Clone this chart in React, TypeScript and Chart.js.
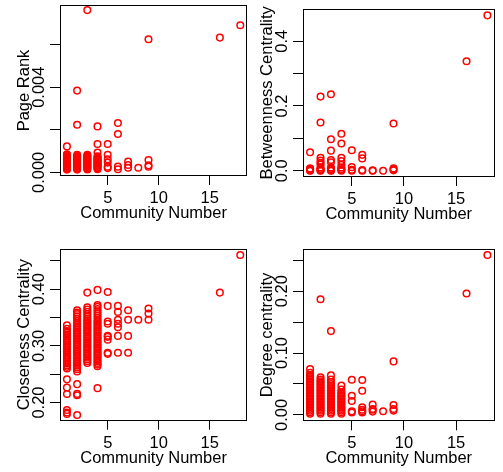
import React, { useEffect, useRef } from "react";
import { Chart, registerables } from "chart.js";

Chart.register(...registerables);

// ---------- data ----------
const communities = [1, 2, 3, 4, 5, 6, 7, 8, 9, 16, 18];

const pageRank: number[][] = [
  [0.00013, 0.00017, 0.00021, 0.00025, 0.00029, 0.00033, 0.00037, 0.00041, 0.00045, 0.00049, 0.00053, 0.00057, 0.00061, 0.00065, 0.00069, 0.00073, 0.00077, 0.00081, 0.00085, 0.00122],
  [0.00013, 0.00017, 0.00021, 0.00025, 0.00029, 0.00033, 0.00037, 0.00041, 0.00045, 0.00049, 0.00053, 0.00057, 0.00061, 0.00065, 0.00069, 0.00073, 0.00077, 0.00082, 0.00224, 0.00384],
  [0.00014, 0.00018, 0.00022, 0.00026, 0.0003, 0.00034, 0.00038, 0.00042, 0.00046, 0.0005, 0.00054, 0.00058, 0.00062, 0.00066, 0.0007, 0.00074, 0.00078, 0.00082, 0.00762],
  [0.00015, 0.00019, 0.00023, 0.00027, 0.00031, 0.00035, 0.00039, 0.00043, 0.00047, 0.00051, 0.00055, 0.00059, 0.00063, 0.00067, 0.00071, 0.00076, 0.00093, 0.00133, 0.00216],
  [0.0002, 0.00027, 0.00046, 0.00062, 0.00083, 0.00133],
  [0.00015, 0.00027, 0.0018, 0.00232],
  [0.00022, 0.00035, 0.00051],
  [0.00022],
  [0.00027, 0.00033, 0.00058, 0.00625],
  [0.00633],
  [0.00691],
];

const betweenness: number[][] = [
  [0, 0.001, 0.003, 0.005, 0.007, 0.057],
  [0, 0.001, 0.003, 0.006, 0.01, 0.019, 0.024, 0.031, 0.04, 0.149, 0.229],
  [0, 0.001, 0.003, 0.006, 0.01, 0.026, 0.033, 0.062, 0.097, 0.236],
  [0, 0.002, 0.005, 0.01, 0.018, 0.03, 0.04, 0.084, 0.114],
  [0, 0.003, 0.011, 0.063],
  [0, 0.002, 0.038, 0.049],
  [0, 0.001],
  [0],
  [0.001, 0.004, 0.007, 0.146],
  [0.338],
  [0.48],
];

const closeness: number[][] = [
  [0.18, 0.1824, 0.187, 0.215, 0.2265, 0.241, 0.26, 0.263, 0.266, 0.269, 0.272, 0.275, 0.278, 0.281, 0.284, 0.287, 0.29, 0.293, 0.296, 0.299, 0.302, 0.305, 0.308, 0.311, 0.314, 0.317, 0.32, 0.323, 0.326, 0.33, 0.3365],
  [0.178, 0.213, 0.2153, 0.2325, 0.255, 0.259, 0.262, 0.265, 0.268, 0.271, 0.274, 0.277, 0.28, 0.283, 0.286, 0.289, 0.292, 0.295, 0.298, 0.301, 0.304, 0.307, 0.31, 0.313, 0.316, 0.319, 0.322, 0.325, 0.328, 0.331, 0.334, 0.337, 0.34, 0.344, 0.348, 0.352, 0.356, 0.359, 0.3626],
  [0.27, 0.273, 0.276, 0.279, 0.282, 0.285, 0.288, 0.291, 0.294, 0.297, 0.3, 0.303, 0.306, 0.309, 0.312, 0.315, 0.318, 0.321, 0.324, 0.327, 0.33, 0.333, 0.336, 0.339, 0.342, 0.345, 0.348, 0.352, 0.356, 0.36, 0.364, 0.368, 0.394],
  [0.2254, 0.264, 0.267, 0.27, 0.273, 0.276, 0.279, 0.282, 0.285, 0.288, 0.291, 0.294, 0.297, 0.3, 0.303, 0.306, 0.309, 0.312, 0.315, 0.318, 0.321, 0.324, 0.327, 0.33, 0.333, 0.336, 0.339, 0.342, 0.345, 0.349, 0.353, 0.357, 0.361, 0.365, 0.369, 0.372, 0.3988],
  [0.286, 0.288, 0.311, 0.316, 0.318, 0.339, 0.343, 0.3706, 0.395],
  [0.288, 0.3176, 0.333, 0.339, 0.346, 0.36, 0.3706],
  [0.288, 0.3176, 0.346, 0.363],
  [0.346],
  [0.346, 0.357, 0.366],
  [0.394],
  [0.4605],
];

const degree: number[][] = [
  [0.002, 0.0045, 0.007, 0.0095, 0.012, 0.0145, 0.017, 0.0195, 0.022, 0.0245, 0.027, 0.0295, 0.032, 0.0345, 0.037, 0.0395, 0.042, 0.0445, 0.047, 0.0495, 0.052, 0.0545, 0.057, 0.0595, 0.062, 0.0645, 0.068, 0.0742],
  [0.002, 0.0045, 0.007, 0.0095, 0.012, 0.0145, 0.017, 0.0195, 0.022, 0.0245, 0.027, 0.0295, 0.032, 0.0345, 0.037, 0.0395, 0.042, 0.0445, 0.047, 0.0495, 0.052, 0.0545, 0.057, 0.0607, 0.187],
  [0.002, 0.0045, 0.007, 0.0095, 0.012, 0.0145, 0.017, 0.0195, 0.022, 0.0245, 0.027, 0.0295, 0.032, 0.0345, 0.037, 0.0395, 0.042, 0.0445, 0.047, 0.05, 0.053, 0.057, 0.0639, 0.1355],
  [0.002, 0.0045, 0.007, 0.0095, 0.012, 0.0145, 0.017, 0.0195, 0.022, 0.0245, 0.027, 0.0295, 0.032, 0.0345, 0.037, 0.041, 0.0473],
  [0.004, 0.0058, 0.0226, 0.031, 0.0569],
  [0.004, 0.0058, 0.0083, 0.0123, 0.039, 0.0565],
  [0.0054, 0.0083, 0.0097, 0.0166],
  [0.0059],
  [0.007, 0.0097, 0.016, 0.0865],
  [0.1962],
  [0.2585],
];

// ---------- axes ----------
const xRange = [0.32, 18.68];
const xTicks = [5, 10, 15];

const pageRankRange = [-0.00017, 0.00786];
const pageRankTicks = [0, 0.002, 0.004, 0.006];
const pageRankLabels = ["0.000", "", "0.004", ""];

const betweennessRange = [-0.0195, 0.5005];
const betweennessTicks = [0, 0.1, 0.2, 0.3, 0.4];
const betweennessLabels = ["0.0", "", "0.2", "", "0.4"];

const closenessRange = [0.168, 0.4715];
const closenessTicks = [0.2, 0.25, 0.3, 0.35, 0.4, 0.45];
const closenessLabels = ["0.20", "", "0.30", "", "0.40", ""];

const degreeRange = [-0.0103, 0.2687];
const degreeTicks = [0, 0.05, 0.1, 0.15, 0.2, 0.25];
const degreeLabels = ["0.00", "", "0.10", "", "0.20", ""];

const xTitle = "Community Number";

// ---------- layout / style ----------
const FONT_FAMILY = '"Liberation Sans", Arial, Helvetica, sans-serif';
const FONT_SIZE = 16.5;
const LINE_H = FONT_SIZE * 1.2;
const RED = "#ff0000";
const Y_TICK_LEN = 10;
const X_TICK_LEN = 9;

type PanelDef = {
  title: string;
  values: number[][];
  yRange: number[];
  yTicks: number[];
  yLabels: string[];
  left: number;
  top: number;
  width: number;
  height: number;
  box: number[]; // l, t, r, b in canvas coords
};

const panelDefs: PanelDef[] = [
  { title: "Page Rank", values: pageRank, yRange: pageRankRange, yTicks: pageRankTicks, yLabels: pageRankLabels, left: 0, top: 0, width: 252, height: 236, box: [60, 5, 251, 176] },
  { title: "Betweenness Centrality", values: betweenness, yRange: betweennessRange, yTicks: betweennessTicks, yLabels: betweennessLabels, left: 252, top: 0, width: 251, height: 236, box: [51, 5, 242.5, 177] },
  { title: "Closeness Centrality", values: closeness, yRange: closenessRange, yTicks: closenessTicks, yLabels: closenessLabels, left: 0, top: 236, width: 252, height: 236, box: [60, 12.7, 251, 184.7] },
  { title: "Degree centrality", values: degree, yRange: degreeRange, yTicks: degreeTicks, yLabels: degreeLabels, left: 252, top: 236, width: 251, height: 236, box: [51, 12.7, 242.5, 185.3] },
];

const boxPlugin = {
  id: "plotBox",
  afterDraw(chart: any) {
    const { ctx, chartArea: a } = chart;
    ctx.save();
    ctx.strokeStyle = "#000";
    ctx.lineWidth = 1;
    const l = Math.round(a.left) + 0.5;
    const t = Math.round(a.top) + 0.5;
    const r = Math.round(a.right) - 0.5;
    const b = Math.round(a.bottom) - 0.5;
    ctx.strokeRect(l, t, r - l, b - t);
    ctx.restore();
  },
};

function measureWidest(labels: string[]): number {
  const c = document.createElement("canvas");
  const ctx = c.getContext("2d")!;
  ctx.font = `normal ${FONT_SIZE}px ${FONT_FAMILY}`;
  let w = 0;
  labels.forEach((l) => {
    w = Math.max(w, ctx.measureText(l).width);
  });
  return w;
}

function makeConfig(p: PanelDef): any {
  const points: { x: number; y: number }[] = [];
  p.values.forEach((vals, i) => vals.forEach((v) => points.push({ x: communities[i], y: v })));
  const [bl, bt, br, bb] = p.box;
  const font = { family: FONT_FAMILY, size: FONT_SIZE };
  const widest = measureWidest(p.yLabels);
  const yTickCenter = 20.3;
  const yTitleCenter = 36;
  const xTickCenter = 22.5;
  const xTitleCenter = 37.5;

  return {
    type: "scatter",
    data: {
      datasets: [
        {
          data: points,
          pointStyle: "circle",
          pointRadius: 3.3,
          pointHoverRadius: 3.3,
          borderWidth: 1.5,
          borderColor: RED,
          backgroundColor: "rgba(0,0,0,0)",
        },
      ],
    },
    plugins: [boxPlugin],
    options: {
      animation: false,
      responsive: false,
      events: [],
      layout: { padding: { left: 0, top: bt, right: p.width - br, bottom: 0 } },
      plugins: { legend: { display: false }, tooltip: { enabled: false } },
      scales: {
        x: {
          type: "linear",
          min: xRange[0],
          max: xRange[1],
          afterFit: (s: any) => {
            s.height = p.height - bb;
          },
          afterBuildTicks: (s: any) => {
            s.ticks = xTicks.map((v) => ({ value: v }));
          },
          grid: { drawOnChartArea: false, drawTicks: true, tickLength: X_TICK_LEN, color: "#000", lineWidth: 1 },
          border: { display: false },
          ticks: {
            font,
            color: "#000",
            padding: xTickCenter - X_TICK_LEN - LINE_H / 2,
            maxRotation: 0,
            minRotation: 0,
            autoSkip: false,
            callback: (v: number) => String(v),
          },
          title: {
            display: true,
            text: xTitle,
            font,
            color: "#000",
            padding: { top: 0, bottom: p.height - (bb + xTitleCenter) - LINE_H / 2 },
          },
        },
        y: {
          type: "linear",
          min: p.yRange[0],
          max: p.yRange[1],
          afterFit: (s: any) => {
            s.width = bl;
          },
          afterBuildTicks: (s: any) => {
            s.ticks = p.yTicks.map((v) => ({ value: v }));
          },
          grid: { drawOnChartArea: false, drawTicks: true, tickLength: Y_TICK_LEN, color: "#000", lineWidth: 1 },
          border: { display: false },
          ticks: {
            font,
            color: "#000",
            minRotation: 90,
            maxRotation: 90,
            crossAlign: "center",
            autoSkip: false,
            padding: yTickCenter - Y_TICK_LEN - widest / 2,
            callback: (_v: number, i: number) => p.yLabels[i],
          },
          title: {
            display: true,
            text: p.title,
            font,
            color: "#000",
            padding: { top: bl - yTitleCenter - LINE_H / 2, bottom: 0 },
          },
        },
      },
    },
  };
}

export default function App() {
  const refs = useRef<(HTMLCanvasElement | null)[]>([]);

  useEffect(() => {
    const charts = panelDefs.map((p, i) => new Chart(refs.current[i] as HTMLCanvasElement, makeConfig(p)));
    return () => charts.forEach((c) => c.destroy());
  }, []);

  return (
    <div style={{ position: "absolute", left: 0, top: 0, width: 503, height: 472, background: "#fff" }}>
      {panelDefs.map((p, i) => (
        <div key={i} style={{ position: "absolute", left: p.left, top: p.top, width: p.width, height: p.height }}>
          <canvas
            ref={(el) => {
              refs.current[i] = el;
            }}
            width={p.width}
            height={p.height}
            style={{ width: p.width, height: p.height, display: "block" }}
          />
        </div>
      ))}
    </div>
  );
}
